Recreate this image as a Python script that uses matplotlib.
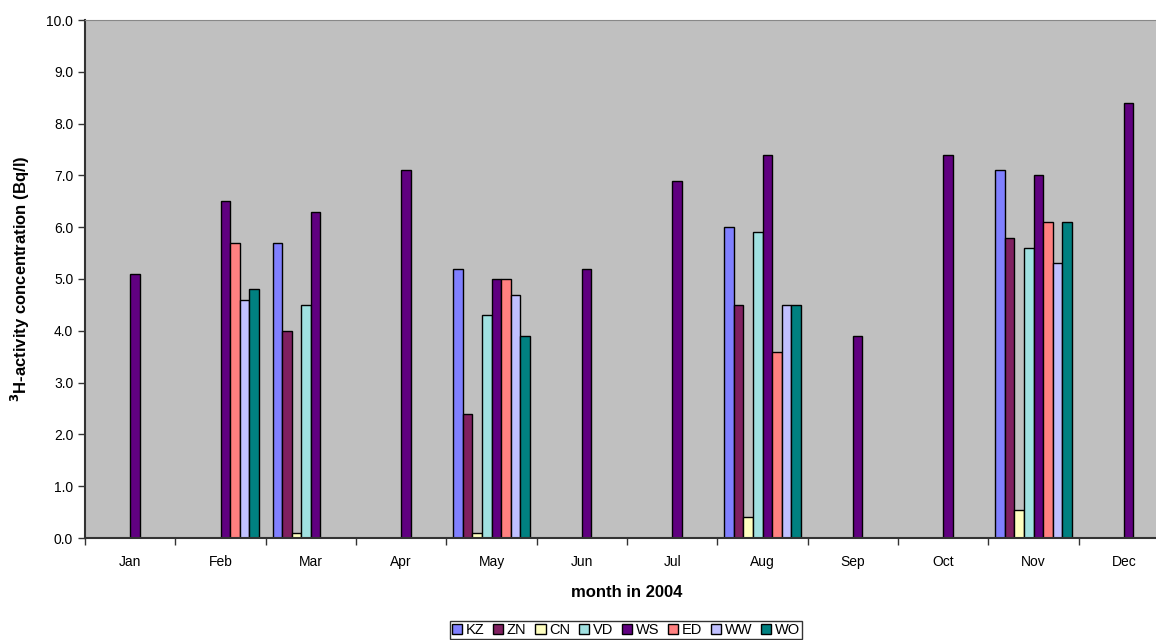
import numpy as np
import matplotlib.pyplot as plt

plt.rcParams['font.family'] = ['Liberation Sans', 'DejaVu Sans']

# ==============================
# Data
# ==============================
months = ["Jan", "Feb", "Mar", "Apr", "May", "Jun", "Jul", "Aug", "Sep", "Oct", "Nov", "Dec"]
series = ["KZ", "ZN", "CN", "VD", "WS", "ED", "WW", "WO"]
nan = np.nan

KZ = [nan, nan, 5.7, nan, 5.2, nan, nan, 6.0, nan, nan, 7.1, nan]
ZN = [nan, nan, 4.0, nan, 2.4, nan, nan, 4.5, nan, nan, 5.8, nan]
CN = [nan, nan, 0.1, nan, 0.1, nan, nan, 0.4, nan, nan, 0.55, nan]
VD = [nan, nan, 4.5, nan, 4.3, nan, nan, 5.9, nan, nan, 5.6, nan]
WS = [5.1, 6.5, 6.3, 7.1, 5.0, 5.2, 6.9, 7.4, 3.9, 7.4, 7.0, 8.4]
ED = [nan, 5.7, nan, nan, 5.0, nan, nan, 3.6, nan, nan, 6.1, nan]
WW = [nan, 4.6, nan, nan, 4.7, nan, nan, 4.5, nan, nan, 5.3, nan]
WO = [nan, 4.8, nan, nan, 3.9, nan, nan, 4.5, nan, nan, 6.1, nan]

values = [KZ, ZN, CN, VD, WS, ED, WW, WO]
colors = ["#8080FF", "#802060", "#FFFFC0", "#A0E0E0", "#600080", "#FF8080", "#C0C0FF", "#008080"]

# ==============================
# Plot
# ==============================
fig = plt.figure(figsize=(11.56, 6.4), dpi=100)
ax = fig.add_axes([85 / 1156, 1 - 538 / 640, 1084 / 1156, 518 / 640])
ax.set_facecolor("#C0C0C0")

x = np.arange(len(months))
w = 0.106
for i, (name, vals, c) in enumerate(zip(series, values, colors)):
    ax.bar(x + (i - 4) * w, vals, width=w, align="edge", color=c,
           edgecolor="black", linewidth=1.0, label=name)

ax.set_xlim(-0.5, len(months) - 0.5)
ax.set_ylim(0, 10)
ax.set_yticks(np.arange(0, 10.01, 1.0))
ax.set_yticklabels([f"{v:.1f}" for v in np.arange(0, 10.01, 1.0)], fontsize=10)
ax.set_xticks(x)
ax.set_xticklabels(months, fontsize=10)
ax.tick_params(axis="x", which="major", length=0, pad=12)
ax.set_xticks(np.arange(-0.5, len(months), 1.0), minor=True)
ax.tick_params(axis="x", which="minor", length=5, width=1, color="#333333")
ax.tick_params(axis="y", length=5, width=1, color="#333333")

ax.spines["left"].set_color("#333333")
ax.spines["left"].set_linewidth(1.5)
ax.spines["bottom"].set_color("#333333")
ax.spines["bottom"].set_linewidth(1.5)
ax.spines["top"].set_color("#888888")
ax.spines["right"].set_visible(False)

ax.set_ylabel(r"$\mathbf{^3}$H-activity concentration (Bq/l)", fontsize=12,
              fontweight="bold", labelpad=10)
ax.set_xlabel("month in 2004", fontsize=12, fontweight="bold", labelpad=12)

fig.legend(loc="center", bbox_to_anchor=(626 / 1156, 1 - 630 / 640), ncol=8,
           fontsize=10.5, frameon=True, fancybox=False, edgecolor="black",
           handlelength=0.7, handleheight=0.7, handletextpad=0.25,
           columnspacing=0.6, borderpad=0.15, borderaxespad=0)

fig.savefig("out.png", dpi=100)
